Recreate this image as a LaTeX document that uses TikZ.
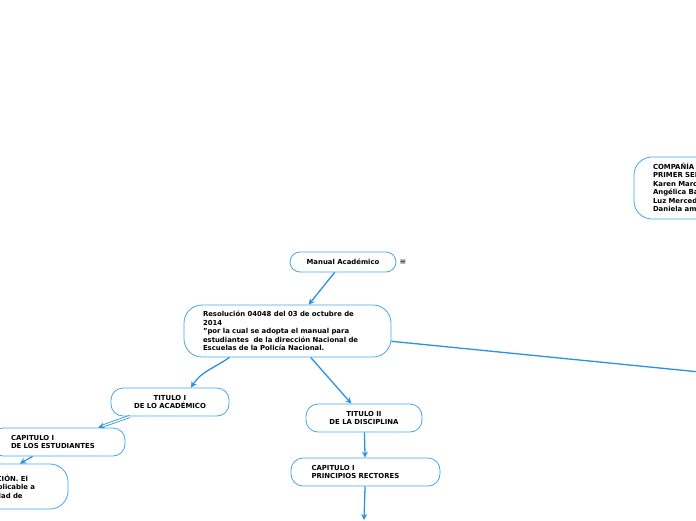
\documentclass[tikz,border=0pt]{standalone}
\usepackage{fontspec}
\setmainfont{DejaVu Sans}
\usetikzlibrary{arrows.meta}
\definecolor{boxDraw}{HTML}{45A5EA}
\definecolor{linkDraw}{HTML}{2B92DF}
\tikzset{
  font=\fontsize{6.9}{8.5}\selectfont\bfseries,
  topic/.style ={draw=boxDraw, line width=0.8pt, rounded corners=12pt, align=center, inner sep=3pt, minimum height=28pt},
  pill/.style  ={topic, rounded corners=10pt, minimum height=20pt},
  textbox/.style ={topic, align=left, inner xsep=20pt, rounded corners=18pt},
  link/.style  ={draw=linkDraw, line width=1.3pt, -{Stealth[length=6pt, width=6pt]}},
  twin/.style  ={link, line width=0.8pt, double=white, double distance=1.3pt},
  plain/.style ={draw=linkDraw, line width=1.3pt},
}
\begin{document}
\begin{tikzpicture}[x=1pt, y=-1pt]
  \useasboundingbox (0,0) rectangle (696,520);
  \clip (0,0) rectangle (696,520);

  \node[pill, minimum width=106pt] (manual) at (343,262) {Manual Académico};
  \node[font=\fontsize{8}{9}\selectfont\mdseries] (menu) at (403,262) {≡};

  \node[textbox, text width=169pt, inner xsep=19pt, minimum height=52pt] (resol) at (287.5,331)
    {Resolución 04048 del 03 de octubre de\\2014\\"por la cual se adopta el manual para\\estudiantes \ de la dirección Nacional de\\Escuelas de la Policía Nacional.};

  \node[topic, minimum width=118pt] (tituloA) at (170,402) {TITULO I\\DE LO ACADÉMICO};
  \node[topic, minimum width=116pt] (tituloB) at (364,418) {TITULO II\\DE LA DISCIPLINA};

  \node[textbox, text width=94pt, rounded corners=12pt] (capEst) at (58,442) {CAPITULO I\\DE LOS ESTUDIANTES};
  \node[textbox, text width=108pt, inner xsep=20.5pt, rounded corners=12pt] (capRect) at (365.5,472) {CAPITULO I\\PRINCIPIOS RECTORES};

  \node[textbox, text width=131pt, inner xsep=23pt, minimum height=45pt] (art) at (-20.5,486.5)
    {ARTÍCULO 1°. APLICACIÓN. El\\presente manual es aplicable a\\cadetes de la comunidad de};

  \node[textbox, text width=100pt, minimum height=62pt, inner xsep=19pt] (comp) at (703,188)
    {COMPAÑÍA\\PRIMER SEMESTRE\\Karen Marcela\\Angélica Barrera\\Luz Mercedes\\Daniela amaya};

  \coordinate (farRight) at (800,382);
  \coordinate (below) at (364,520);

  \draw[link] (manual) -- (resol);
  \draw[link] ([xshift=-58pt]resol.south) to[out=-145, in=58] ([xshift=21pt]tituloA.north);
  \draw[link] (resol) -- (tituloB);
  \draw[plain] (resol) -- (farRight);
  \draw[twin] (tituloA) -- (capEst);
  \draw[link] (capEst) -- (art);
  \draw[link] (tituloB) -- (capRect);
  \draw[link] (capRect) -- (below);
\end{tikzpicture}
\end{document}
